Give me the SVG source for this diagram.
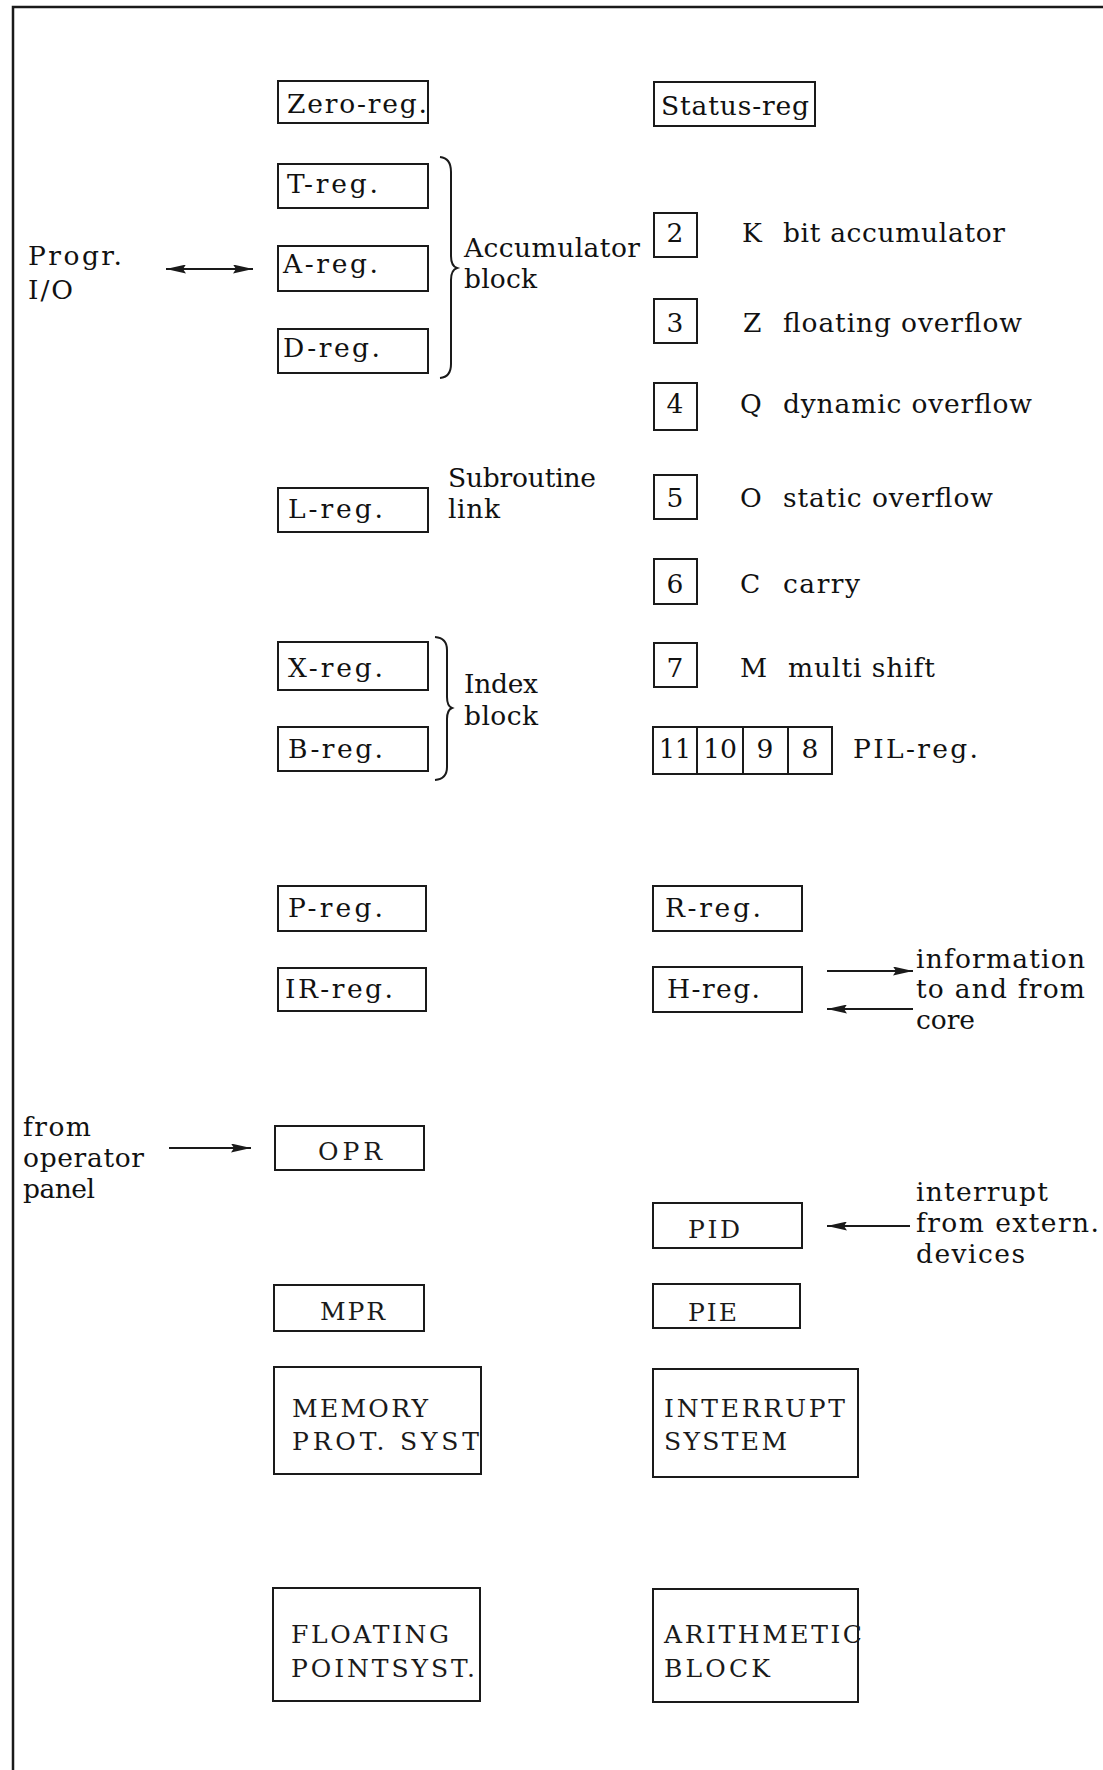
<svg xmlns="http://www.w3.org/2000/svg" width="1103" height="1770" viewBox="0 0 1103 1770">
<style>
  .bx{fill:none;stroke:#1a1a1a;stroke-width:2}
  .t{font-family:"DejaVu Serif","Liberation Serif",serif;font-size:26.5px;fill:#111111}
  .u{font-family:"DejaVu Serif","Liberation Serif",serif;font-size:25px;fill:#1a1a1a}
  .c{text-anchor:middle}
  .ln{fill:none;stroke:#1a1a1a;stroke-width:2}
</style>
<defs>
  <marker id="ah" viewBox="0 0 20 9" refX="20" refY="4.5" markerWidth="20" markerHeight="9" markerUnits="userSpaceOnUse" orient="auto-start-reverse">
    <path d="M0,0 L20,4.5 L0,9 L3,4.5 z" fill="#1a1a1a"/>
  </marker>
</defs>
<rect width="1103" height="1770" fill="#ffffff"/>
<path d="M13,1770 L13,7 L1103,7" fill="none" stroke="#1a1a1a" stroke-width="2.5"/>

<g id="zero-reg"><rect class="bx" x="278" y="81" width="150" height="42"/><text class="t" x="287" y="113" textLength="140" lengthAdjust="spacing">Zero-reg.</text></g>
<g id="status-reg"><rect class="bx" x="654" y="82" width="161" height="44"/><text class="t" x="661" y="115" textLength="148" lengthAdjust="spacing">Status-reg</text></g>
<g id="t-reg"><rect class="bx" x="278" y="164" width="150" height="44"/><text class="t" x="287" y="193" textLength="91" lengthAdjust="spacing">T-reg.</text></g>
<g id="a-reg"><rect class="bx" x="278" y="246" width="150" height="45"/><text class="t" x="283" y="273" textLength="95" lengthAdjust="spacing">A-reg.</text></g>
<g id="d-reg"><rect class="bx" x="278" y="329" width="150" height="44"/><text class="t" x="283" y="357" textLength="97" lengthAdjust="spacing">D-reg.</text></g>
<g id="accumulator-block"><path class="ln" d="M440,157 Q451,158 451,172 L451,256 Q451,266 457,268 Q451,270 451,280 L451,364 Q451,377 440,378"/><text class="t" x="464" y="257" textLength="176" lengthAdjust="spacing">Accumulator</text><text class="t" x="464" y="288" textLength="73" lengthAdjust="spacing">block</text></g>
<g id="progr-io"><text class="t" x="28" y="265" textLength="94" lengthAdjust="spacing">Progr.</text><text class="t" x="28" y="299" textLength="45" lengthAdjust="spacing">I/O</text></g>

<g id="bit2"><rect class="bx" x="654" y="213" width="43" height="44"/><text class="t c" x="675" y="242">2</text><text class="t" x="742" y="242">K</text><text class="t" x="783" y="242" textLength="222" lengthAdjust="spacing">bit accumulator</text></g>
<g id="bit3"><rect class="bx" x="654" y="299" width="43" height="44"/><text class="t c" x="675" y="332">3</text><text class="t" x="743" y="332">Z</text><text class="t" x="783" y="332" textLength="239" lengthAdjust="spacing">floating overflow</text></g>
<g id="bit4"><rect class="bx" x="654" y="383" width="43" height="47"/><text class="t c" x="675" y="413">4</text><text class="t" x="740" y="413">Q</text><text class="t" x="783" y="413" textLength="249" lengthAdjust="spacing">dynamic overflow</text></g>
<g id="bit5"><rect class="bx" x="654" y="475" width="43" height="44"/><text class="t c" x="675" y="507">5</text><text class="t" x="740" y="507">O</text><text class="t" x="783" y="507" textLength="210" lengthAdjust="spacing">static overflow</text></g>
<g id="bit6"><rect class="bx" x="654" y="559" width="43" height="45"/><text class="t c" x="675" y="593">6</text><text class="t" x="740" y="593">C</text><text class="t" x="783" y="593" textLength="77" lengthAdjust="spacing">carry</text></g>
<g id="bit7"><rect class="bx" x="654" y="643" width="43" height="44"/><text class="t c" x="675" y="677">7</text><text class="t" x="740" y="677">M</text><text class="t" x="788" y="677" textLength="147" lengthAdjust="spacing">multi shift</text></g>
<g id="pil-reg"><rect class="bx" x="653" y="727" width="179" height="47"/><path class="ln" d="M697,727 V774 M743,727 V774 M788,727 V774"/><text class="t c" x="675" y="758" textLength="32" lengthAdjust="spacingAndGlyphs">11</text><text class="t c" x="720" y="758" textLength="34" lengthAdjust="spacingAndGlyphs">10</text><text class="t c" x="765" y="758">9</text><text class="t c" x="810" y="758">8</text><text class="t" x="853" y="758" textLength="125" lengthAdjust="spacing">PIL-reg.</text></g>

<g id="l-reg"><rect class="bx" x="278" y="488" width="150" height="44"/><text class="t" x="288" y="518" textLength="95" lengthAdjust="spacing">L-reg.</text></g>
<g id="subroutine-link"><text class="t" x="448" y="487" textLength="148" lengthAdjust="spacing">Subroutine</text><text class="t" x="448" y="518" textLength="52" lengthAdjust="spacing">link</text></g>
<g id="x-reg"><rect class="bx" x="278" y="642" width="150" height="48"/><text class="t" x="288" y="677" textLength="95" lengthAdjust="spacing">X-reg.</text></g>
<g id="b-reg"><rect class="bx" x="278" y="727" width="150" height="44"/><text class="t" x="288" y="758" textLength="95" lengthAdjust="spacing">B-reg.</text></g>
<g id="index-block"><path class="ln" d="M435,637 Q447,638 447,650 L447,697 Q447,706 452,708 Q447,710 447,719 L447,767 Q447,779 435,780"/><text class="t" x="464" y="693" textLength="74" lengthAdjust="spacing">Index</text><text class="t" x="464" y="725" textLength="74" lengthAdjust="spacing">block</text></g>

<g id="p-reg"><rect class="bx" x="278" y="886" width="148" height="45"/><text class="t" x="288" y="917" textLength="95" lengthAdjust="spacing">P-reg.</text></g>
<g id="ir-reg"><rect class="bx" x="278" y="968" width="148" height="43"/><text class="t" x="285" y="998" textLength="108" lengthAdjust="spacing">IR-reg.</text></g>
<g id="r-reg"><rect class="bx" x="653" y="886" width="149" height="45"/><text class="t" x="665" y="917" textLength="96" lengthAdjust="spacing">R-reg.</text></g>
<g id="h-reg"><rect class="bx" x="653" y="967" width="149" height="45"/><text class="t" x="667" y="998" textLength="93" lengthAdjust="spacing">H-reg.</text></g>
<g id="core-info"><text class="t" x="916" y="968" textLength="169" lengthAdjust="spacing">information</text><text class="t" x="916" y="998" textLength="169" lengthAdjust="spacing">to and from</text><text class="t" x="916" y="1029" textLength="59" lengthAdjust="spacing">core</text></g>

<g id="operator-panel"><text class="t" x="23" y="1136" textLength="68" lengthAdjust="spacing">from</text><text class="t" x="23" y="1167" textLength="121" lengthAdjust="spacing">operator</text><text class="t" x="23" y="1198" textLength="72" lengthAdjust="spacing">panel</text></g>
<g id="opr"><rect class="bx" x="275" y="1126" width="149" height="44"/><text class="u" x="318" y="1160" textLength="64" lengthAdjust="spacing">OPR</text></g>
<g id="ext-interrupt"><text class="t" x="916" y="1201" textLength="132" lengthAdjust="spacing">interrupt</text><text class="t" x="916" y="1232" textLength="183" lengthAdjust="spacing">from extern.</text><text class="t" x="916" y="1263" textLength="109" lengthAdjust="spacing">devices</text></g>
<g id="pid"><rect class="bx" x="653" y="1203" width="149" height="45"/><text class="u" x="688" y="1238" textLength="52" lengthAdjust="spacing">PID</text></g>
<g id="mpr"><rect class="bx" x="274" y="1285" width="150" height="46"/><text class="u" x="320" y="1320" textLength="65" lengthAdjust="spacing">MPR</text></g>
<g id="pie"><rect class="bx" x="653" y="1284" width="147" height="44"/><text class="u" x="688" y="1321" textLength="49" lengthAdjust="spacing">PIE</text></g>

<g id="memory-prot"><rect class="bx" x="274" y="1367" width="207" height="107"/><text class="u" x="292" y="1417" textLength="136" lengthAdjust="spacing">MEMORY</text><text class="u" x="292" y="1450" textLength="187" lengthAdjust="spacing">PROT. SYST</text></g>
<g id="interrupt-system"><rect class="bx" x="653" y="1369" width="205" height="108"/><text class="u" x="664" y="1417" textLength="181" lengthAdjust="spacing">INTERRUPT</text><text class="u" x="664" y="1450" textLength="123" lengthAdjust="spacing">SYSTEM</text></g>
<g id="floating-point"><rect class="bx" x="273" y="1588" width="207" height="113"/><text class="u" x="291" y="1643" textLength="158" lengthAdjust="spacing">FLOATING</text><text class="u" x="291" y="1677" textLength="184" lengthAdjust="spacing">POINTSYST.</text></g>
<g id="arithmetic-block"><rect class="bx" x="653" y="1589" width="205" height="113"/><text class="u" x="664" y="1643" textLength="198" lengthAdjust="spacing">ARITHMETIC</text><text class="u" x="664" y="1677" textLength="106" lengthAdjust="spacing">BLOCK</text></g>

<g id="connectors">
  <line class="ln" x1="166" y1="269" x2="253" y2="269" marker-start="url(#ah)" marker-end="url(#ah)"/>
  <line class="ln" x1="827" y1="971" x2="913" y2="971" marker-end="url(#ah)"/>
  <line class="ln" x1="913" y1="1009" x2="827" y2="1009" marker-end="url(#ah)"/>
  <line class="ln" x1="169" y1="1148" x2="251" y2="1148" marker-end="url(#ah)"/>
  <line class="ln" x1="910" y1="1226" x2="827" y2="1226" marker-end="url(#ah)"/>
</g>
</svg>
